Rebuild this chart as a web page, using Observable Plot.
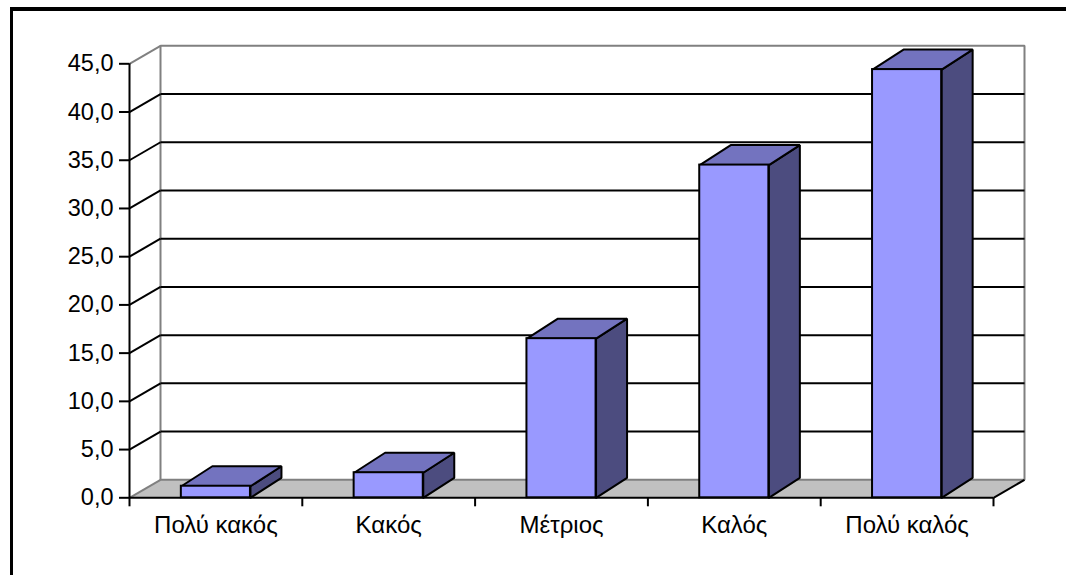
<!DOCTYPE html>
<html>
<head>
<meta charset="utf-8">
<script src="https://cdn.jsdelivr.net/npm/d3@7"></script>
<script src="https://cdn.jsdelivr.net/npm/@observablehq/plot@0.6"></script>
<style>
  html, body { margin: 0; padding: 0; background: #fff; }
  #wrap { position: relative; width: 1066px; height: 575px; overflow: hidden; }
  #frame { position: absolute; left: 10px; top: 7px; width: 1100px; height: 700px;
           border-left: 3px solid #000; border-top: 4px solid #000; pointer-events: none; }
</style>
</head>
<body>
<div id="wrap"><div id="chart"></div><div id="frame"></div></div>
<script>
// ---- data ----
const categories = ["Πολύ κακός", "Κακός", "Μέτριος", "Καλός", "Πολύ καλός"];
const values = [1.2, 2.6, 16.5, 34.5, 44.4];
const yTicks = [0, 5, 10, 15, 20, 25, 30, 35, 40, 45];

// ---- layout ----
const W = 1066, H = 575;
const mL = 129, mR = 73, mT = 63.3, mB = 77.7;
const n = categories.length, yMax = 45;
const kx = (W - mL - mR) / n;          // px per category unit
const ky = (H - mT - mB) / yMax;       // px per value unit
const wallDX = 31 / kx, wallDY = 18 / ky;
const barDX = 31 / kx, barDY = 20 / ky;
const half = 0.2;

const FRONT = "#9999FF", TOP = "#7373BF", SIDE = "#4C4C7F";
const GRAY = "#808080", FLOOR = "#C0C0C0";

const bars = categories.map((c, i) => ({c, i, v: values[i]}));

function poly(pts, id) { return [...pts, pts[0]].map(p => ({x: p[0], y: p[1], id})); }

const floorPts = poly([[0,0],[n,0],[n+wallDX,wallDY],[wallDX,wallDY]], "floor");
const wallPts = poly([[wallDX,wallDY],[n+wallDX,wallDY],[n+wallDX,yMax+wallDY],[wallDX,yMax+wallDY]], "wall");

const topPts = bars.flatMap(b => poly([
  [b.i+0.5-half, b.v], [b.i+0.5+half, b.v],
  [b.i+0.5+half+barDX, b.v+barDY], [b.i+0.5-half+barDX, b.v+barDY]], "t"+b.i));
const sidePts = bars.flatMap(b => poly([
  [b.i+0.5+half, 0], [b.i+0.5+half+barDX, barDY],
  [b.i+0.5+half+barDX, b.v+barDY], [b.i+0.5+half, b.v]], "s"+b.i));

const inner = yTicks.filter(v => v > 0 && v < yMax);
const fmt = d => d.toFixed(1).replace(".", ",");

const chart = Plot.plot({
  width: W, height: H,
  marginLeft: mL, marginRight: mR, marginTop: mT, marginBottom: mB,
  style: {fontFamily: "'Liberation Sans', Arial, sans-serif", fontSize: "23px", background: "transparent", color: "#000"},
  x: {type: "linear", domain: [0, n], label: null},
  y: {type: "linear", domain: [0, yMax], label: null},
  marks: [
    // floor
    Plot.line(floorPts, {x: "x", y: "y", z: "id", fill: FLOOR, stroke: "none"}),
    // back wall
    Plot.line(wallPts, {x: "x", y: "y", z: "id", fill: "#fff", stroke: GRAY, strokeWidth: 2, strokeLinejoin: "miter"}),
    // back-wall gridlines
    Plot.link(inner, {x1: () => wallDX, x2: () => n + wallDX, y1: v => v + wallDY, y2: v => v + wallDY, stroke: "#000", strokeWidth: 2}),
    // side-wall diagonals
    Plot.link(inner, {x1: () => 0, y1: v => v, x2: () => wallDX, y2: v => v + wallDY, stroke: "#000", strokeWidth: 2}),
    Plot.link([yMax, 0], {x1: () => 0, y1: v => v, x2: () => wallDX, y2: v => v + wallDY, stroke: GRAY, strokeWidth: 2}),
    // floor edges
    Plot.link([0], {x1: () => n, y1: () => 0, x2: () => n + wallDX, y2: () => wallDY, stroke: "#000", strokeWidth: 2}),
    Plot.ruleY([0], {x1: 0, x2: n, stroke: "#000", strokeWidth: 2}),
    // bars
    Plot.line(sidePts, {x: "x", y: "y", z: "id", fill: SIDE, stroke: "#000", strokeWidth: 2, strokeLinejoin: "miter"}),
    Plot.line(topPts, {x: "x", y: "y", z: "id", fill: TOP, stroke: "#000", strokeWidth: 2, strokeLinejoin: "miter"}),
    Plot.rect(bars, {x1: d => d.i + 0.5 - half, x2: d => d.i + 0.5 + half, y1: () => 0, y2: "v", fill: FRONT, stroke: "#000", strokeWidth: 2, inset: 0}),
    // y axis
    Plot.ruleX([0], {y1: 0, y2: yMax, stroke: "#000", strokeWidth: 2}),
    Plot.axisY(yTicks, {anchor: "left", tickSize: 10, tickPadding: 6, strokeWidth: 2, tickFormat: fmt, fontSize: 23.5, label: null}),
    // x axis ticks and labels
    Plot.axisX(d3.range(0, n + 1), {anchor: "bottom", tickSize: 9, strokeWidth: 2, tickFormat: () => "", label: null}),
    Plot.axisX(d3.range(0, n).map(i => i + 0.5), {anchor: "bottom", tickSize: 0, tickPadding: 18, tickFormat: d => categories[Math.floor(d)], fontSize: 24, label: null})
  ]
});
document.getElementById("chart").appendChild(chart);
</script>
</body>
</html>
